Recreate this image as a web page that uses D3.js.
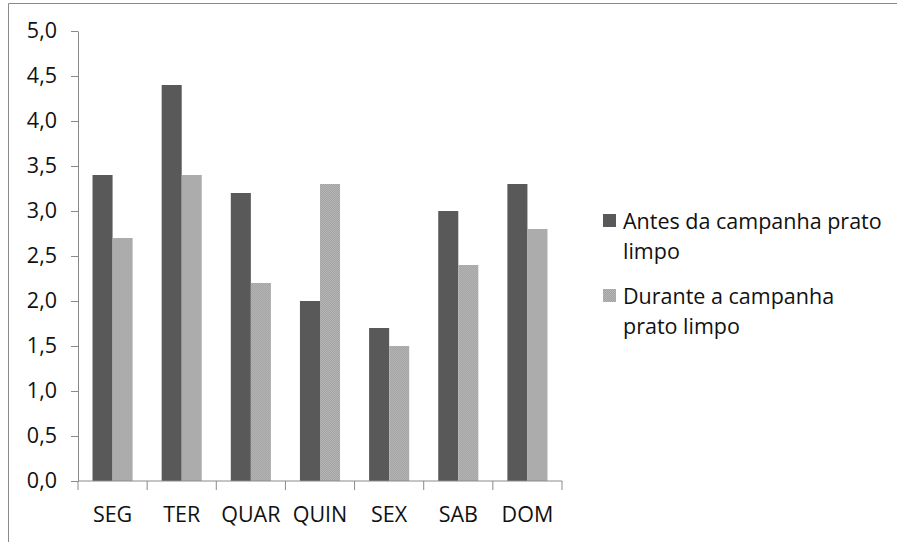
<!DOCTYPE html>
<html>
<head>
<meta charset="utf-8">
<script src="https://cdn.jsdelivr.net/npm/d3@7"></script>
<style>
  body { margin: 0; background: #fff; }
  text { font-family: "Open Sans", sans-serif; fill: #111; }
</style>
</head>
<body>
<div id="chart"></div>
<script>
/* grouped bar chart - dias da semana */

const days = ["SEG", "TER", "QUAR", "QUIN", "SEX", "SAB", "DOM"];
const antes = [3.4, 4.4, 3.2, 2.0, 1.7, 3.0, 3.3];
const durante = [2.7, 3.4, 2.2, 3.3, 1.5, 2.4, 2.8];
const seriesNames = ["Antes da campanha prato limpo", "Durante a campanha prato limpo"];
const legendLines = [["Antes da campanha prato", "limpo"], ["Durante a campanha", "prato limpo"]];
const yTicks = [0, 0.5, 1, 1.5, 2, 2.5, 3, 3.5, 4, 4.5, 5];

const height = 542,
    width = 897,
    margin = ({ top: 31, right: 335, bottom: 61, left: 78 }),
    fontSize = 21.5;

const svg = d3.select("#chart")
    .append("svg")
    .attr("width", width)
    .attr("height", height);

// light bars have a dotted texture
const pat = svg.append("defs").append("pattern")
    .attr("id", "dots")
    .attr("width", 2).attr("height", 2)
    .attr("patternUnits", "userSpaceOnUse");
pat.append("rect").attr("width", 2).attr("height", 2).attr("fill", "#a2a2a2");
pat.append("rect").attr("width", 1).attr("height", 1).attr("fill", "#b6b6b6");
pat.append("rect").attr("x", 1).attr("y", 1).attr("width", 1).attr("height", 1).attr("fill", "#b6b6b6");

const colors = ["#595959", "url(#dots)"];

// outer frame (only top and left visible)
svg.append("path")
    .attr("d", "M8.5,542V3.5H897")
    .attr("fill", "none")
    .attr("stroke", "#8a8a8a");

let data = days.map((d, i) => ({ day: d, values: [antes[i], durante[i]] }));

let x = d3.scaleBand()
    .domain(days)
    .range([margin.left, width - margin.right])
    .paddingInner(0.42)
    .paddingOuter(0.21);

let x1 = d3.scaleBand()
    .domain([0, 1])
    .range([0, x.bandwidth()]);

let y = d3.scaleLinear()
    .domain([0, 5])
    .range([height - margin.bottom, margin.top]);

// y axis
svg.append("g")
    .attr("transform", `translate(${margin.left},0)`)
    .call(d3.axisLeft(y).tickValues(yTicks).tickSize(7).tickPadding(14).tickSizeOuter(0)
        .tickFormat(d => d3.format(".1f")(d).replace(".", ",")))
    .call(g => g.selectAll("path, line").attr("stroke", "#8a8a8a"))
    .call(g => g.selectAll("text").attr("font-family", "Open Sans").attr("font-size", fontSize).attr("fill", "#111"));

// bars
svg.append("g")
    .selectAll("g")
    .data(data)
    .join("g")
    .attr("transform", d => `translate(${x(d.day)},0)`)
    .selectAll("rect")
    .data(d => d.values)
    .join("rect")
    .attr("x", (d, i) => x1(i))
    .attr("width", x1.bandwidth())
    .attr("y", d => y(d))
    .attr("height", d => y(0) - y(d))
    .attr("fill", (d, i) => colors[i]);

// x axis with ticks between categories
let step = x.step();
let xAxis = svg.append("g")
    .attr("transform", `translate(0,${y(0)})`);
xAxis.append("line")
    .attr("x1", margin.left).attr("x2", width - margin.right)
    .attr("stroke", "#8a8a8a");
xAxis.selectAll(".sep")
    .data(d3.range(days.length + 1))
    .join("line")
    .attr("class", "sep")
    .attr("x1", i => margin.left + i * step)
    .attr("x2", i => margin.left + i * step)
    .attr("y1", 0).attr("y2", 9)
    .attr("stroke", "#8a8a8a");
xAxis.selectAll(".lbl")
    .data(days)
    .join("text")
    .attr("class", "lbl")
    .attr("x", d => x(d) + x.bandwidth() / 2)
    .attr("y", 41)
    .attr("text-anchor", "middle")
    .attr("font-size", fontSize)
    .text(d => d);

// legend
let legend = svg.append("g")
    .selectAll("g")
    .data(seriesNames)
    .join("g")
    .attr("transform", (d, i) => `translate(603,${214 + i * 75})`);

legend.append("rect")
    .attr("width", 13).attr("height", 13)
    .attr("fill", (d, i) => colors[i]);

legend.append("text")
    .attr("x", 20)
    .attr("y", 0)
    .attr("font-size", fontSize)
    .selectAll("tspan")
    .data((d, i) => legendLines[i])
    .join("tspan")
    .attr("x", 20)
    .attr("dy", (d, j) => j === 0 ? 15 : 30)
    .text(d => d);
</script>
</body>
</html>
